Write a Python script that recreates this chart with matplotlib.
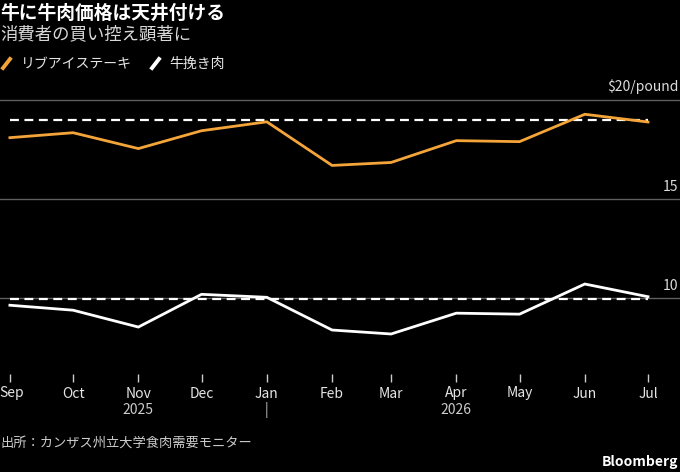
import matplotlib
matplotlib.use('Agg')
import matplotlib.pyplot as plt
import matplotlib.transforms as mtransforms
from matplotlib.lines import Line2D
from datetime import datetime, timedelta

plt.rcParams['font.family'] = ['Noto Sans CJK JP', 'DejaVu Sans']

# data
months = ['2025-09', '2025-10', '2025-11', '2025-12', '2026-01', '2026-02',
          '2026-03', '2026-04', '2026-05', '2026-06', '2026-07']
ribeye = [18.1, 18.35, 17.55, 18.45, 18.9, 16.7, 16.85, 17.95, 17.9, 19.28, 18.89]
ground_beef = [9.65, 9.4, 8.55, 10.2, 10.05, 8.4, 8.2, 9.25, 9.2, 10.72, 10.08]
ribeye_ref = 19.0
ground_ref = 9.97
tick_labels = ['Sep', 'Oct', 'Nov', 'Dec', 'Jan', 'Feb', 'Mar', 'Apr', 'May', 'Jun', 'Jul']
y_ticks = [10, 15, 20]
y_tick_labels = ['10', '15', '$20/pound']

dates = [datetime.strptime(m, '%Y-%m') for m in months]

ORANGE = '#f4a53a'
BG = 'black'

fig = plt.figure(figsize=(6.8, 4.72), dpi=100, facecolor=BG)
W, H = 680, 472

# axes: top at 95 px, bottom at 374 px
top_px, bot_px = 95, 374
ax = fig.add_axes([0, 1 - bot_px / H, 1, (bot_px - top_px) / H])
ax.set_facecolor(BG)
ppu = 19.83
ax.set_ylim(10 - (bot_px - 298.3) / ppu, 20 + 5 / ppu)
ax.set_xlim(dates[0] - timedelta(days=4.7), dates[-1] + timedelta(days=15.2))

for s in ax.spines.values():
    s.set_visible(False)

# gridlines and right-side labels
for v, lab in zip(y_ticks, y_tick_labels):
    ax.axhline(v, color='#5f5f5f', lw=1, zorder=1)
    ax.annotate(lab, xy=(1, v), xycoords=('axes fraction', 'data'),
                xytext=(-1, 4), textcoords='offset points',
                ha='right', va='bottom', color='#dddddd', fontsize=10)
ax.set_yticks([])

# reference lines
ax.plot([dates[0], dates[-1]], [ribeye_ref, ribeye_ref], color='white',
        lw=1.6, ls=(0, (4, 2.5)), zorder=3)
ax.plot([dates[0], dates[-1]], [ground_ref, ground_ref], color='white',
        lw=1.6, ls=(0, (4, 2.5)), zorder=3)

# series
ax.plot(dates, ribeye, color=ORANGE, lw=2, zorder=4, solid_joinstyle='miter')
ax.plot(dates, ground_beef, color='white', lw=2, zorder=4, solid_joinstyle='miter')

# x axis
ax.set_xticks(dates)
ax.set_xticklabels(tick_labels)
ax.tick_params(axis='x', direction='out', length=6, width=1, color='#cccccc',
               labelcolor='#e6e6e6', labelsize=10, pad=3)
# keep the first label inside the figure
first = ax.get_xticklabels()[0]
first.set_transform(first.get_transform() +
                    mtransforms.ScaledTranslation(2 / 100, 0, fig.dpi_scale_trans))

for d, lab in [(dates[2], '2025'), (dates[4], '|'), (dates[7], '2026')]:
    ax.annotate(lab, xy=(d, 0), xycoords=('data', 'axes fraction'),
                xytext=(0, -26), textcoords='offset points',
                ha='center', va='center', color='#cccccc', fontsize=10)

# titles
fig.text(0, 1 - 13 / H, '牛に牛肉価格は天井付ける', color='white', fontsize=13.5,
         fontweight='bold', ha='left', va='center')
fig.text(0, 1 - 34 / H, '消費者の買い控え顕著に', color='#d8d8d8', fontsize=12.5,
         ha='left', va='center')

# legend
fig.add_artist(Line2D([3 / W, 10 / W], [1 - 68 / H, 1 - 59 / H], color=ORANGE,
                      lw=2.8, transform=fig.transFigure))
fig.text(21 / W, 1 - 64 / H, 'リブアイステーキ', color='#e6e6e6', fontsize=10,
         ha='left', va='center')
fig.add_artist(Line2D([152 / W, 159 / W], [1 - 68 / H, 1 - 59 / H], color='white',
                      lw=2.8, transform=fig.transFigure))
fig.text(169 / W, 1 - 64 / H, '牛挽き肉', color='#e6e6e6', fontsize=10,
         ha='left', va='center')

# footer
fig.text(0, 1 - 443 / H, '出所：カンザス州立大学食肉需要モニター', color='#cccccc',
         fontsize=9.5, ha='left', va='center')
fig.text(678 / W, 1 - 462 / H, 'Bloomberg', color='white', fontsize=10,
         fontweight='bold', ha='right', va='center')

plt.savefig('out.png', dpi=100, facecolor=BG)
plt.close()
